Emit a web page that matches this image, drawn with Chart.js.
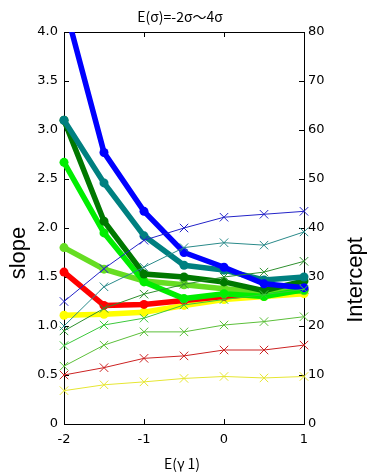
<!DOCTYPE html>
<html>
<head>
<meta charset="utf-8">
<script src="https://cdn.jsdelivr.net/npm/chart.js@4"></script>
<style>
  html, body { margin: 0; padding: 0; background: #fff; }
  #wrap { width: 370px; height: 475px; }
</style>
</head>
<body>
<div id="wrap"><canvas id="chart" width="370" height="475"></canvas></div>
<script>
/* ==============================
   DATA
============================== */
const xs = [-2, -1.5, -1, -0.5, 0, 0.5, 1];

// slope (left axis, thick lines)
const slopeBlue   = [4.3, 2.77, 2.17, 1.75, 1.6, 1.43, 1.39];
const slopeTeal   = [3.1, 2.46, 1.92, 1.62, 1.57, 1.47, 1.5];
const slopeDkGrn  = [3.1, 2.07, 1.53, 1.5, 1.45, 1.36, 1.46];
const slopeLime   = [2.67, 1.95, 1.45, 1.28, 1.33, 1.3, 1.37];
const slopeYlGrn  = [1.8, 1.58, 1.46, 1.42, 1.38, 1.35, 1.36];
const slopeRed    = [1.55, 1.21, 1.22, 1.26, 1.3, 1.33, 1.37];
const slopeYellow = [1.11, 1.12, 1.14, 1.21, 1.27, 1.3, 1.33];

// intercept (right axis, thin lines)
const icptBlue   = [25, 31.7, 37.5, 40, 42.2, 42.8, 43.4];
const icptTeal   = [20, 28, 32, 36, 37, 36.5, 39.2];
const icptDkGrn  = [19, 23.6, 26.5, 28.5, 30, 31, 33.2];
const icptLime   = [16, 20.2, 21.6, 24.3, 25.4, 26.4, 27.5];
const icptYlGrn  = [11.8, 16.1, 18.8, 18.8, 20.2, 20.9, 21.9];
const icptRed    = [10, 11.5, 13.4, 13.9, 15.1, 15.1, 16.1];
const icptYellow = [6.8, 8, 8.6, 9.3, 9.7, 9.4, 9.7];

const slopeTicks = [0, 0.5, 1, 1.5, 2, 2.5, 3, 3.5, 4];
const icptTicks = [0, 10, 20, 30, 40, 50, 60, 70, 80];
const xTicks = [-2, -1, 0, 1];

/* ==============================
   HELPERS
============================== */
const pts = arr => arr.map((v, i) => ({ x: xs[i], y: v }));
const CLIP = { left: 10, right: 10, top: 0, bottom: 10 };

function thick(data, color) {
  return {
    data: pts(data), yAxisID: "y",
    borderColor: color, backgroundColor: color,
    borderWidth: 5.5, pointRadius: 4.5, pointStyle: "circle",
    pointBorderWidth: 0, clip: CLIP, order: 2
  };
}

function thin(data, color) {
  return {
    data: pts(data), yAxisID: "y2",
    borderColor: color, backgroundColor: color,
    borderWidth: 1, pointRadius: 6, pointStyle: "crossRot",
    pointBorderWidth: 1, clip: CLIP, order: 1
  };
}

/* ==============================
   FRAME + INWARD TICKS + TEXTS
============================== */
const frame = {
  id: "frame",
  beforeDatasetsDraw(chart) {
    const { ctx, chartArea: a, scales } = chart;
    ctx.save();
    ctx.strokeStyle = "#000";
    ctx.lineWidth = 1;
    ctx.strokeRect(a.left + 0.5, a.top + 0.5, a.right - a.left, a.bottom - a.top);
    ctx.beginPath();
    xTicks.forEach(v => {
      const px = Math.round(scales.x.getPixelForValue(v)) + 0.5;
      ctx.moveTo(px, a.bottom); ctx.lineTo(px, a.bottom - 5);
      ctx.moveTo(px, a.top); ctx.lineTo(px, a.top + 5);
    });
    slopeTicks.forEach(v => {
      const py = Math.round(scales.y.getPixelForValue(v)) + 0.5;
      ctx.moveTo(a.left, py); ctx.lineTo(a.left + 5, py);
    });
    icptTicks.forEach(v => {
      const py = Math.round(scales.y2.getPixelForValue(v)) + 0.5;
      ctx.moveTo(a.right, py); ctx.lineTo(a.right - 5, py);
    });
    ctx.stroke();
    ctx.restore();
  },
  afterDraw(chart) {
    const ctx = chart.ctx;
    ctx.save();
    ctx.fillStyle = "#000";
    ctx.textAlign = "center";
    ctx.textBaseline = "middle";
    ctx.font = "14px 'Noto Sans CJK JP', 'DejaVu Sans'";
    ctx.fillText("E(σ)=-2σ〜4σ", 180, 17);
    ctx.fillText("E(γ 1)", 182, 464);

    ctx.font = "22px 'Liberation Sans', Arial";
    ctx.translate(19, 253);
    ctx.rotate(-Math.PI / 2);
    ctx.fillText("slope", 0, 0);
    ctx.setTransform(1, 0, 0, 1, 0, 0);
    ctx.translate(356, 280);
    ctx.rotate(-Math.PI / 2);
    ctx.fillText("Intercept", 0, 0);
    ctx.restore();
  }
};

/* ==============================
   CHART
============================== */
const tickFont = { family: "'DejaVu Sans', sans-serif", size: 13 };

new Chart(document.getElementById("chart"), {
  type: "line",
  data: {
    datasets: [
      thin(icptBlue, "#2323c8"),
      thin(icptTeal, "#2a8a8a"),
      thin(icptDkGrn, "#2f902f"),
      thin(icptLime, "#3cc83c"),
      thin(icptYlGrn, "#5cbf3a"),
      thin(icptRed, "#cc2222"),
      thin(icptYellow, "#e6e632"),
      thick(slopeBlue, "#0000ff"),
      thick(slopeTeal, "#008080"),
      thick(slopeDkGrn, "#007800"),
      thick(slopeLime, "#00ee00"),
      thick(slopeYlGrn, "#66dd22"),
      thick(slopeRed, "#ff0000"),
      thick(slopeYellow, "#ffff00")
    ]
  },
  options: {
    responsive: false,
    animation: false,
    layout: { padding: { top: 32 } },
    plugins: { legend: { display: false }, tooltip: { enabled: false } },
    scales: {
      x: {
        type: "linear", min: -2, max: 1,
        afterBuildTicks: s => { s.ticks = xTicks.map(v => ({ value: v })); },
        grid: { display: false, drawTicks: false },
        border: { display: false },
        ticks: { color: "#000", font: tickFont, padding: 8, maxRotation: 0 },
        afterFit: s => { s.height = 51; }
      },
      y: {
        position: "left", min: 0, max: 4,
        afterBuildTicks: s => { s.ticks = slopeTicks.map(v => ({ value: v })); },
        grid: { display: false, drawTicks: false },
        border: { display: false },
        ticks: { color: "#000", font: tickFont, padding: 6 },
        afterFit: s => { s.width = 64; }
      },
      y2: {
        position: "right", min: 0, max: 80,
        afterBuildTicks: s => { s.ticks = icptTicks.map(v => ({ value: v })); },
        grid: { display: false, drawTicks: false },
        border: { display: false },
        ticks: { color: "#000", font: tickFont, padding: 4 },
        afterFit: s => { s.width = 66; }
      }
    }
  },
  plugins: [frame]
});
</script>
</body>
</html>
